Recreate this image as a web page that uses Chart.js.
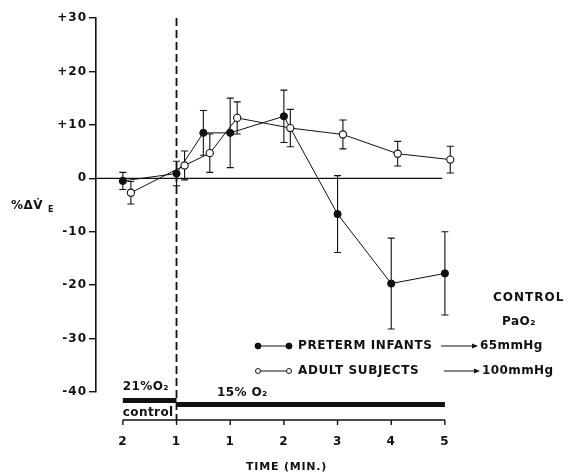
<!DOCTYPE html>
<html>
<head>
<meta charset="utf-8">
<script src="https://cdn.jsdelivr.net/npm/chart.js@4.4.1/dist/chart.umd.min.js"></script>
<style>
  html, body { margin: 0; padding: 0; background: #fff; }
  canvas { display: block; }
</style>
</head>
<body>
<canvas id="chart" width="569" height="475"></canvas>
<script>
// Data (time in minutes, position 0..6 on the axis)
const xTickPos = [0, 1, 2, 3, 4, 5, 6];
const xTickLabels = ['2', '1', '1', '2', '3', '4', '5'];
const yTickVals = [-40, -30, -20, -10, 0, 10, 20, 30];
const yTickLabels = ['-40', '-30', '-20', '-10', '0', '+10', '+20', '+30'];

const pretermTime = [0, 1, 1.5, 2, 3, 4, 5, 6];
const pretermVals = [-0.5, 0.9, 8.5, 8.5, 11.6, -6.7, -19.7, -17.8];
const pretermErr = [1.6, 2.3, 4.2, 6.5, 4.9, 7.2, 8.5, 7.8];

const adultTime = [0.15, 1.15, 1.62, 2.13, 3.12, 4.1, 5.12, 6.1];
const adultVals = [-2.7, 2.4, 4.7, 11.3, 9.4, 8.2, 4.6, 3.5];
const adultErr = [2.1, 2.7, 3.6, 3.0, 3.5, 2.7, 2.3, 2.5];

const switchTime = 1;          // dashed line: 21% -> 15% O2
const controlPeriod = [0, 1];
const hypoxiaPeriod = [1, 6];
const zeroLineRange = [-0.5, 5.95];

const FONT = '"DejaVu Sans", sans-serif';
const INK = '#111';

function pts(xs, ys) {
  return xs.map((x, i) => ({ x: x, y: ys[i] }));
}

// error bars, reference lines, bottom bars and labels
const paperMarks = {
  id: 'paperMarks',
  beforeDraw(chart) {
    // wider spacing for the axis numbers, like the typeset original
    chart.ctx.letterSpacing = '1px';
  },
  beforeDatasetsDraw(chart) {
    const ctx = chart.ctx;
    const x = chart.scales.x;
    const y = chart.scales.y;
    ctx.save();
    ctx.strokeStyle = INK;

    // zero line
    ctx.lineWidth = 1.2;
    ctx.beginPath();
    ctx.moveTo(x.getPixelForValue(zeroLineRange[0]), y.getPixelForValue(0));
    ctx.lineTo(x.getPixelForValue(zeroLineRange[1]), y.getPixelForValue(0));
    ctx.stroke();

    // dashed switch line
    ctx.lineWidth = 1.8;
    ctx.setLineDash([8, 4]);
    ctx.beginPath();
    ctx.moveTo(x.getPixelForValue(switchTime), y.getPixelForValue(30));
    ctx.lineTo(x.getPixelForValue(switchTime), chart.chartArea.bottom + 28);
    ctx.stroke();
    ctx.setLineDash([]);

    // error bars
    ctx.lineWidth = 1.1;
    const drawErr = (xs, vs, es) => {
      xs.forEach((t, i) => {
        const px = x.getPixelForValue(t);
        const top = y.getPixelForValue(vs[i] + es[i]);
        const bot = y.getPixelForValue(vs[i] - es[i]);
        ctx.beginPath();
        ctx.moveTo(px, top); ctx.lineTo(px, bot);
        ctx.moveTo(px - 3.5, top); ctx.lineTo(px + 3.5, top);
        ctx.moveTo(px - 3.5, bot); ctx.lineTo(px + 3.5, bot);
        ctx.stroke();
      });
    };
    drawErr(pretermTime, pretermVals, pretermErr);
    drawErr(adultTime, adultVals, adultErr);
    ctx.restore();
  },
  afterDraw(chart) {
    const ctx = chart.ctx;
    const x = chart.scales.x;
    const bottom = chart.chartArea.bottom;
    ctx.save();
    ctx.fillStyle = INK;
    ctx.strokeStyle = INK;

    // gas condition bars
    const x0 = x.getPixelForValue(controlPeriod[0]);
    const x1 = x.getPixelForValue(controlPeriod[1]);
    const x2 = x.getPixelForValue(hypoxiaPeriod[1]);
    ctx.fillRect(x0, bottom + 6, x1 - x0, 5);
    ctx.fillRect(x1, bottom + 10, x2 - x1, 5);

    // time axis
    const axisY = bottom + 28;
    ctx.lineWidth = 1.4;
    ctx.beginPath();
    ctx.moveTo(x0, axisY); ctx.lineTo(x2, axisY);
    xTickPos.forEach(v => {
      const px = x.getPixelForValue(v);
      ctx.moveTo(px, axisY); ctx.lineTo(px, axisY + 5);
    });
    ctx.stroke();

    ctx.textBaseline = 'middle';
    ctx.font = 'bold 12px ' + FONT;
    ctx.letterSpacing = '0.4px';
    ctx.fillText('21%O\u2082', x0, bottom - 5);
    ctx.fillText('control', x0, bottom + 21);
    ctx.fillText('15% O\u2082', 217, bottom + 1);
    ctx.font = 'bold 11px ' + FONT;
    ctx.letterSpacing = '0.8px';
    ctx.fillText('TIME (MIN.)', 246, 467);

    // y axis title
    ctx.font = 'bold 12px ' + FONT;
    ctx.letterSpacing = '0.5px';
    ctx.fillText('%\u0394V\u0307', 11, 206);
    ctx.font = 'bold 8px ' + FONT;
    ctx.fillText('E', 48, 210);

    // legend
    ctx.font = 'bold 12px ' + FONT;
    ctx.letterSpacing = '1px';
    ctx.fillText('CONTROL', 493, 298);
    ctx.letterSpacing = '0.5px';
    ctx.fillText('PaO\u2082', 502, 322);

    ctx.lineWidth = 1;
    const legendRow = (ly, filled, label, arrowFrom, arrowTo, value) => {
      ctx.beginPath();
      ctx.moveTo(258, ly); ctx.lineTo(289, ly);
      ctx.stroke();
      [258, 289].forEach(cx => {
        ctx.beginPath();
        ctx.arc(cx, ly, filled ? 3 : 2.5, 0, Math.PI * 2);
        ctx.fillStyle = filled ? INK : '#fff';
        ctx.fill();
        ctx.stroke();
      });
      ctx.fillStyle = INK;
      ctx.letterSpacing = '0.6px';
      ctx.fillText(label, 298, ly);
      ctx.beginPath();
      ctx.moveTo(arrowFrom, ly); ctx.lineTo(arrowTo - 4, ly);
      ctx.stroke();
      ctx.beginPath();
      ctx.moveTo(arrowTo, ly); ctx.lineTo(arrowTo - 6, ly - 2.5); ctx.lineTo(arrowTo - 6, ly + 2.5);
      ctx.closePath(); ctx.fill();
      ctx.letterSpacing = '0.4px';
      ctx.fillText(value, arrowTo + 2, ly);
    };
    legendRow(346, true, 'PRETERM INFANTS', 441, 478, '65mmHg');
    legendRow(371, false, 'ADULT SUBJECTS', 444, 480, '100mmHg');
    ctx.restore();
  }
};

new Chart(document.getElementById('chart'), {
  type: 'line',
  data: {
    datasets: [
      {
        label: 'ADULT SUBJECTS',
        data: pts(adultTime, adultVals),
        borderColor: INK,
        borderWidth: 1,
        pointRadius: 3.6,
        pointBackgroundColor: '#fff',
        pointBorderColor: INK,
        pointBorderWidth: 1.1,
        tension: 0
      },
      {
        label: 'PRETERM INFANTS',
        data: pts(pretermTime, pretermVals),
        borderColor: INK,
        borderWidth: 1,
        pointRadius: 3.6,
        pointBackgroundColor: INK,
        pointBorderColor: INK,
        pointBorderWidth: 1,
        tension: 0
      }
    ]
  },
  options: {
    responsive: false,
    animation: false,
    devicePixelRatio: 1,
    layout: { padding: { top: 18, right: 6, left: 0, bottom: 0 } },
    plugins: {
      legend: { display: false },
      tooltip: { enabled: false }
    },
    scales: {
      x: {
        type: 'linear',
        min: -0.5,
        max: 8.2,
        grid: { display: false },
        border: { display: false },
        afterBuildTicks: scale => { scale.ticks = xTickPos.map(v => ({ value: v })); },
        afterFit: scale => { scale.height = 83; },
        ticks: {
          autoSkip: false,
          maxRotation: 0,
          padding: 35,
          color: INK,
          font: { family: FONT, size: 12, weight: 'bold' },
          callback: (v, i) => xTickLabels[i]
        }
      },
      y: {
        min: -40,
        max: 30,
        afterBuildTicks: scale => { scale.ticks = yTickVals.map(v => ({ value: v })); },
        afterFit: scale => { scale.width = 96; },
        grid: { drawOnChartArea: false, drawTicks: true, tickLength: 7, color: INK, lineWidth: 1.4 },
        border: { display: true, color: INK, width: 1.6 },
        ticks: {
          padding: 2,
          color: INK,
          font: { family: FONT, size: 12, weight: 'bold' },
          callback: (v, i) => yTickLabels[i]
        }
      }
    }
  },
  plugins: [paperMarks]
});
</script>
</body>
</html>
